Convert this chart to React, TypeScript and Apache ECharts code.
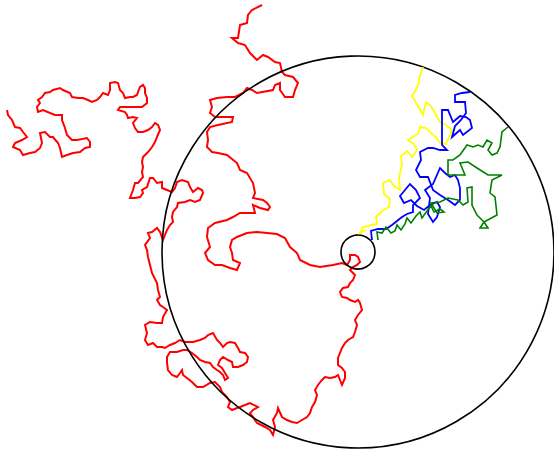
import React, { useEffect, useRef } from "react";
import * as echarts from "echarts";

// Free walk (red): lattice random walk, x/y offsets from the start point
const redWalk: number[][] = [
  [-351,142],[-350,137],[-346,132],[-343,125],[-338,124],[-335,120],[-331,115],[-336,112],[-343,109],[-345,105],
  [-338,102],[-335,97],[-328,99],[-323,100],[-318,104],[-316,109],[-318,119],[-313,120],[-308,115],[-305,115],
  [-300,109],[-298,104],[-296,95],[-291,97],[-285,99],[-278,100],[-273,104],[-268,105],[-268,110],[-271,114],
  [-281,112],[-286,112],[-291,117],[-293,124],[-296,132],[-296,137],[-303,137],[-308,139],[-315,142],[-320,140],
  [-321,145],[-318,149],[-320,152],[-316,155],[-313,159],[-308,160],[-305,162],[-298,164],[-295,162],[-288,159],
  [-286,155],[-280,154],[-275,154],[-270,152],[-266,150],[-261,152],[-258,155],[-255,159],[-250,157],[-248,162],
  [-248,169],[-243,170],[-240,169],[-238,162],[-235,159],[-233,154],[-228,155],[-225,155],[-221,157],[-220,160],
  [-218,165],[-215,167],[-213,164],[-213,159],[-211,154],[-211,149],[-216,145],[-225,145],[-231,145],[-238,145],
  [-240,142],[-233,140],[-231,137],[-230,134],[-225,135],[-221,134],[-225,129],[-223,124],[-220,120],[-215,120],
  [-210,122],[-206,125],[-203,129],[-200,127],[-198,122],[-201,115],[-203,110],[-206,105],[-210,100],[-215,95],
  [-216,90],[-215,85],[-216,80],[-215,75],[-220,69],[-223,69],[-225,62],[-228,54],[-223,54],[-218,55],
  [-215,59],[-216,62],[-211,65],[-208,74],[-205,74],[-201,69],[-196,70],[-196,64],[-191,62],[-186,60],
  [-183,64],[-181,70],[-176,72],[-170,70],[-168,65],[-165,60],[-160,64],[-156,62],[-155,59],[-158,52],
  [-163,50],[-168,52],[-173,50],[-180,49],[-181,45],[-185,40],[-186,35],[-185,30],[-188,27],[-191,22],
  [-193,17],[-195,12],[-198,20],[-201,24],[-206,20],[-210,19],[-208,14],[-213,7],[-211,2],[-210,-5],
  [-208,-13],[-206,-21],[-201,-31],[-200,-38],[-198,-45],[-201,-48],[-198,-53],[-195,-55],[-191,-58],[-195,-65],
  [-196,-71],[-201,-71],[-208,-70],[-213,-73],[-211,-81],[-213,-88],[-210,-93],[-205,-91],[-201,-95],[-196,-95],
  [-193,-96],[-188,-93],[-183,-91],[-178,-88],[-173,-90],[-165,-90],[-158,-88],[-153,-86],[-150,-83],[-145,-81],
  [-141,-88],[-138,-91],[-135,-95],[-131,-91],[-128,-90],[-123,-91],[-120,-96],[-118,-100],[-113,-101],[-110,-105],
  [-111,-110],[-115,-113],[-120,-115],[-125,-115],[-126,-110],[-130,-108],[-135,-105],[-138,-108],[-140,-113],[-136,-116],
  [-133,-121],[-130,-126],[-133,-128],[-135,-123],[-138,-120],[-141,-118],[-145,-115],[-148,-111],[-153,-110],[-158,-108],
  [-161,-105],[-166,-101],[-171,-98],[-175,-98],[-181,-100],[-188,-100],[-191,-105],[-191,-111],[-190,-118],[-186,-123],
  [-181,-125],[-178,-121],[-176,-118],[-175,-123],[-171,-126],[-166,-130],[-161,-135],[-155,-135],[-148,-131],[-143,-130],
  [-138,-135],[-136,-140],[-131,-145],[-128,-150],[-130,-155],[-126,-158],[-121,-156],[-118,-155],[-113,-153],[-108,-151],
  [-100,-155],[-105,-158],[-108,-161],[-101,-171],[-93,-175],[-88,-178],[-85,-183],[-83,-175],[-85,-168],[-81,-161],
  [-80,-156],[-76,-165],[-71,-168],[-66,-170],[-61,-171],[-56,-168],[-51,-165],[-48,-161],[-46,-155],[-43,-150],
  [-41,-143],[-43,-138],[-40,-133],[-36,-128],[-33,-125],[-28,-126],[-23,-125],[-20,-123],[-18,-128],[-16,-133],
  [-13,-126],[-13,-120],[-16,-116],[-20,-113],[-20,-106],[-18,-101],[-16,-96],[-13,-91],[-10,-88],[-5,-85],
  [-3,-80],[-1,-73],[-3,-68],[0,-63],[4,-58],[2,-51],[0,-48],[-3,-50],[-8,-48],[-11,-46],
  [-16,-45],[-18,-40],[-15,-36],[-10,-35],[-8,-31],[-5,-28],[-3,-23],[-6,-20],[-8,-18],[-5,-15],
  [-1,-13],[2,-10],[0,-5],[-3,-3],[-8,-3],[-8,-8],[-11,-13],[-16,-11],[-25,-13],[-38,-15],
  [-48,-13],[-58,-8],[-61,-1],[-68,5],[-73,14],[-81,18],[-91,19],[-101,20],[-111,19],[-121,15],
  [-126,12],[-128,5],[-126,-1],[-125,-8],[-118,-11],[-121,-18],[-128,-16],[-136,-13],[-143,-13],[-150,-8],
  [-153,-1],[-148,5],[-151,15],[-150,24],[-143,29],[-131,32],[-125,35],[-118,39],[-111,39],[-103,39],
  [-105,47],[-98,44],[-90,42],[-88,45],[-91,49],[-95,52],[-105,54],[-103,59],[-105,69],[-111,79],
  [-118,82],[-121,89],[-131,97],[-140,99],[-146,100],[-151,105],[-150,112],[-151,120],[-148,125],[-140,127],
  [-126,130],[-125,135],[-131,135],[-143,135],[-148,139],[-146,145],[-148,152],[-141,154],[-131,155],[-123,155],
  [-115,159],[-111,164],[-106,162],[-101,159],[-85,162],[-83,167],[-78,169],[-78,162],[-73,155],[-65,155],
  [-63,162],[-60,169],[-65,175],[-73,177],[-76,180],[-78,189],[-83,190],[-90,195],[-95,197],[-101,192],
  [-108,199],[-113,207],[-120,209],[-126,214],[-120,214],[-118,227],[-111,229],[-110,237],[-106,242],[-96,247],
];

// Walks stopped at the absorbing circle
const yellowWalk: number[][] = [
  [8,22],[2,19],[5,25],[14,27],[19,28],[18,35],[24,41],[31,45],[32,53],[26,58],
  [25,69],[32,72],[36,66],[42,62],[41,74],[44,87],[43,96],[49,101],[54,95],[59,102],
  [56,108],[50,112],[60,118],[62,125],[68,124],[73,119],[78,115],[82,109],[88,108],[94,122],
  [88,127],[82,130],[78,137],[73,146],[68,150],[65,137],[60,146],[54,156],[60,166],[62,177],[65,185],
];

const blueWalk: number[][] = [
  [14,12],[13,21],[20,23],[28,23],[34,27],[39,31],[44,35],[49,38],[55,40],[55,47],
  [62,54],[58,62],[52,68],[47,62],[42,56],[46,49],[53,52],[59,46],[66,42],[72,47],
  [79,50],[82,45],[79,35],[75,30],[70,38],[72,54],[67,62],[75,68],[82,84],[87,79],
  [92,75],[97,77],[100,72],[102,64],[102,52],[97,47],[90,52],[82,57],[75,62],[70,75],
  [62,75],[58,82],[63,92],[62,100],[70,104],[75,104],[82,102],[89,102],[84,107],[84,124],
  [84,142],[90,142],[95,130],[102,136],[108,135],[112,132],[114,124],[105,117],[102,122],[94,115],
  [97,126],[103,132],[108,139],[107,150],[97,150],[97,157],[104,159],[112,160],
];

const greenWalk: number[][] = [
  [20,12],[19,20],[24,19],[28,25],[33,19],[37,21],[39,27],[43,22],[47,28],[49,34],
  [53,29],[58,36],[62,40],[64,34],[69,41],[73,46],[76,40],[82,43],[86,40],[79,39],
  [73,49],[82,50],[90,54],[100,52],[105,47],[110,50],[109,64],[114,65],[114,47],[119,37],
  [126,30],[122,24],[130,24],[126,30],[139,37],[137,55],[132,59],[134,72],[144,77],[130,77],
  [119,84],[110,90],[102,89],[107,77],[90,77],[90,92],[95,92],[102,97],[109,107],[115,105],
  [120,107],[125,105],[129,112],[134,109],[130,102],[134,97],[139,99],[142,105],[144,120],[150,125],
];

// Circles: [centerX, centerY, radius]
const circles: number[][] = [
  [0, 0, 196],
  [0, 0, 17],
];

export default function App() {
  const ref = useRef<HTMLDivElement>(null);

  useEffect(() => {
    if (!ref.current) return;
    const chart = echarts.init(ref.current, null, { renderer: "svg" });

    const walk = (data: number[][], color: string, z: number, width: number) => ({
      type: "line",
      data,
      showSymbol: false,
      symbol: "none",
      z,
      lineStyle: { color, width, join: "miter" },
      silent: true,
    });

    chart.setOption({
      animation: false,
      backgroundColor: "#ffffff",
      grid: { left: 0, right: 0, top: 0, bottom: 0 },
      xAxis: { type: "value", min: -358, max: 196, show: false },
      yAxis: { type: "value", min: -201, max: 252, show: false },
      series: [
        walk(redWalk, "#ff0000", 2, 2),
        {
          type: "custom",
          data: circles,
          z: 3,
          silent: true,
          renderItem: (_params: any, api: any) => {
            const c = api.coord([api.value(0), api.value(1)]);
            const r = api.size([api.value(2), 0])[0];
            return {
              type: "circle",
              shape: { cx: c[0], cy: c[1], r },
              style: { fill: "none", stroke: "#000000", lineWidth: 1.6 },
            };
          },
        },
        walk(yellowWalk, "#ffff00", 4, 1.8),
        walk(blueWalk, "#0000ff", 5, 1.8),
        walk(greenWalk, "#008000", 6, 1.6),
      ],
    });

    return () => chart.dispose();
  }, []);

  return (
    <div
      ref={ref}
      style={{ position: "fixed", left: 0, top: 0, width: 554, height: 453 }}
    />
  );
}
